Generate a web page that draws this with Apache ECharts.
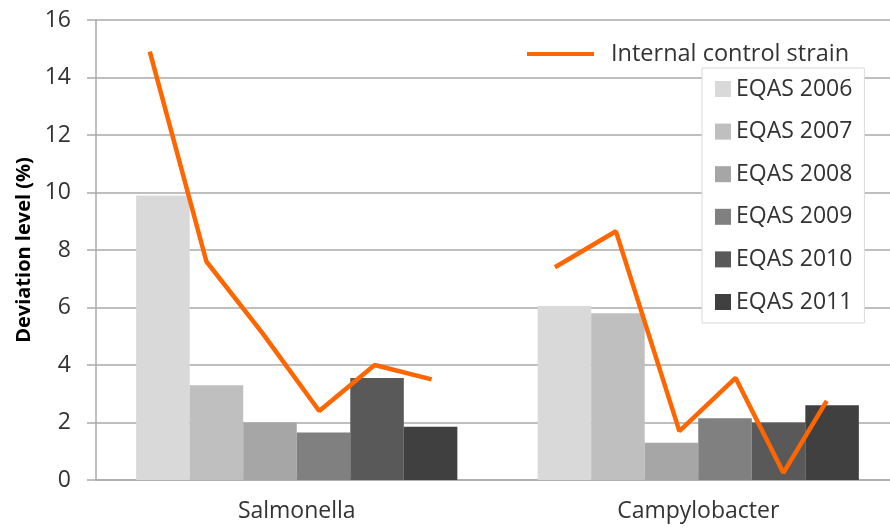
<!DOCTYPE html>
<html>
<head>
<meta charset="utf-8">
<script src="https://cdn.jsdelivr.net/npm/echarts@6/dist/echarts.min.js"></script>
<style>
    html, body { margin: 0; padding: 0; background: #fff; }
    #chart { width: 890px; height: 532px; }
</style>
</head>
<body>
<div id="chart"></div>
<script>
const categories = ['Salmonella', 'Campylobacter'];

// EQAS bars (deviation level, %)
const eqasNames = ['EQAS 2006', 'EQAS 2007', 'EQAS 2008', 'EQAS 2009', 'EQAS 2010', 'EQAS 2011'];
const eqas2006 = [9.9, 6.05];
const eqas2007 = [3.3, 5.8];
const eqas2008 = [2.0, 1.3];
const eqas2009 = [1.65, 2.15];
const eqas2010 = [3.55, 2.0];
const eqas2011 = [1.85, 2.6];

// Internal control strain line, x in category units (0..2)
const controlName = 'Internal control strain';
const salmonellaX = [0.134, 0.275, 0.415, 0.556, 0.694, 0.836];
const salmonellaY = [14.9, 7.6, 5.1, 2.4, 4.0, 3.5];
const campyX = [1.143, 1.295, 1.453, 1.593, 1.712, 1.82];
const campyY = [7.4, 8.65, 1.7, 3.55, 0.25, 2.75];

const yTicks = { min: 0, max: 16, interval: 2 };

const barColors = ['#d9d9d9', '#bfbfbf', '#a6a6a6', '#808080', '#595959', '#404040'];
const lineColor = '#ff6600';
const axisGray = '#aaaaaa';
const textColor = '#333333';
const font = 'Open Sans';

const eqasValues = [eqas2006, eqas2007, eqas2008, eqas2009, eqas2010, eqas2011];

function zipXY(xs, ys) {
    return xs.map((x, i) => [x, ys[i]]);
}

const chart = echarts.init(document.getElementById('chart'), null, { renderer: 'canvas' });

const barSeries = eqasNames.map((name, i) => ({
    name: name,
    type: 'bar',
    barGap: 0,
    barCategoryGap: '20%',
    itemStyle: { color: barColors[i] },
    data: eqasValues[i]
}));

const lineSeries = [zipXY(salmonellaX, salmonellaY), zipXY(campyX, campyY)].map(d => ({
    name: controlName,
    type: 'line',
    xAxisIndex: 1,
    showSymbol: false,
    symbol: 'none',
    z: 5,
    lineStyle: { color: lineColor, width: 4.5 },
    itemStyle: { color: lineColor },
    data: d
}));

chart.setOption({
    animation: false,
    textStyle: { fontFamily: font },
    // plot runs past the right edge of the picture, like the original crop
    grid: { left: 96, width: 803, top: 20, bottom: 52, outerBoundsMode: 'none', containLabel: false },
    legend: [
        {
            data: [controlName],
            left: 522,
            top: 37,
            icon: 'rect',
            itemWidth: 67,
            itemHeight: 4,
            textStyle: { fontSize: 23.5, color: textColor, fontFamily: font, padding: [0, 0, 0, 12] }
        },
        {
            data: eqasNames,
            orient: 'vertical',
            left: 702,
            top: 68,
            padding: [9, 12, 9, 13],
            itemGap: 18.6,
            itemWidth: 16,
            itemHeight: 16,
            icon: 'rect',
            backgroundColor: '#fff',
            borderColor: '#d9d9d9',
            borderWidth: 1,
            textStyle: { fontSize: 23, lineHeight: 24, color: textColor, fontFamily: font }
        }
    ],
    xAxis: [
        {
            type: 'category',
            data: categories,
            axisLine: { lineStyle: { color: axisGray, width: 1.5 } },
            axisTick: { show: false },
            axisLabel: { fontSize: 23, color: textColor, margin: 20 }
        },
        {
            type: 'value',
            min: 0,
            max: 2,
            show: false
        }
    ],
    yAxis: {
        type: 'value',
        min: yTicks.min,
        max: yTicks.max,
        interval: yTicks.interval,
        name: 'Deviation level (%)',
        nameLocation: 'middle',
        nameGap: 62,
        nameTextStyle: { fontSize: 20, fontWeight: 'bold', color: '#000', fontFamily: font },
        axisLine: { show: true, lineStyle: { color: axisGray, width: 1.5 } },
        axisTick: { show: true, length: 9, lineStyle: { color: axisGray, width: 1.5 } },
        axisLabel: { fontSize: 23, color: textColor, margin: 25 },
        splitLine: { lineStyle: { color: axisGray, width: 1.5 } }
    },
    series: [...barSeries, ...lineSeries]
});
</script>
</body>
</html>
